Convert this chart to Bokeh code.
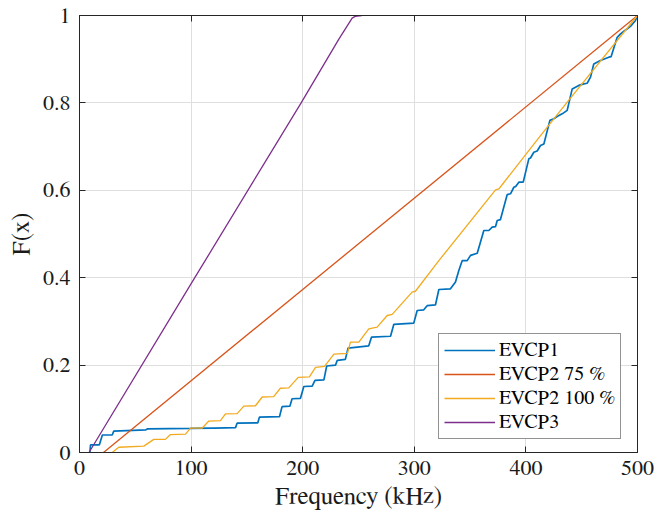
from bokeh.plotting import figure
from bokeh.models import Range1d, LinearAxis, FixedTicker, NumeralTickFormatter
from bokeh.embed import file_html
from bokeh.resources import INLINE

# ---- data ----
evcp1_x = [9.3, 9.9, 17.8, 20.5, 29.3, 30.7, 59.5, 60.8, 99.5, 119, 121, 139.8, 141.2,
           159.8, 161.2, 179.2, 181.5, 188.5, 190.5, 198, 201, 208.5, 211, 219, 221.5,
           229.4, 231, 238.2, 240.7, 259.2, 261.6, 278.7, 281.6, 299.5, 302.6, 308.5,
           311.5, 319, 322, 332.4, 336.9, 339.9, 342.9, 347.4, 350.4, 356.4, 362.3,
           366.8, 369.8, 372.8, 374.3, 377.2, 383.2, 386.2, 389.2, 391, 393.7, 397.6,
           402.6, 404.1, 407.1, 410.1, 413.1, 416.1, 421.5, 425, 428, 432.5, 437, 441.5,
           447.4, 451.9, 454.9, 457.9, 460.8, 466.8, 474.3, 476.4, 481.8, 484.8, 487.8,
           493.7, 498.2, 500]
evcp1_y = [0.0, 0.0176, 0.0176, 0.040, 0.040, 0.049, 0.052, 0.054, 0.055, 0.056, 0.056, 0.057, 0.067,
           0.068, 0.081, 0.082, 0.105, 0.106, 0.123, 0.124, 0.151, 0.152, 0.165, 0.166, 0.198,
           0.200, 0.211, 0.213, 0.239, 0.244, 0.264, 0.266, 0.293, 0.296, 0.325, 0.3265,
           0.336, 0.338, 0.373, 0.3745, 0.390, 0.4165, 0.439, 0.439, 0.451, 0.456, 0.508,
           0.508, 0.5156, 0.517, 0.531, 0.533, 0.590, 0.592, 0.607, 0.609, 0.6186, 0.6186,
           0.672, 0.674, 0.687, 0.690, 0.7025, 0.706, 0.760, 0.7636, 0.769, 0.775, 0.783, 0.832,
           0.840, 0.8436, 0.845, 0.859, 0.889, 0.897, 0.9046, 0.906, 0.950, 0.958, 0.964,
           0.975, 0.9886, 1.0]

evcp2_75_x = [21.5, 500]
evcp2_75_y = [0.0, 1.0]

evcp2_100_x = [29.3, 35.2, 57.6, 66.6, 77, 81.5, 95, 99.5, 110, 115.9, 126.3, 130.8, 141.3,
               147.2, 157.7, 163.7, 174, 180, 187.5, 196, 206, 211.5, 219.5, 228, 240, 242.8,
               250.3, 259.2, 266.7, 275.7, 280.2, 298, 301, 322, 372.8, 375.7, 413.1, 439, 500]
evcp2_100_y = [0.0, 0.012, 0.0145, 0.030, 0.030, 0.041, 0.042, 0.0556, 0.056, 0.072, 0.073, 0.0885, 0.089,
               0.106, 0.107, 0.127, 0.128, 0.147, 0.148, 0.172, 0.173, 0.195, 0.197, 0.225, 0.2266, 0.2525,
               0.2525, 0.283, 0.287, 0.3135, 0.316, 0.367, 0.369, 0.439, 0.601, 0.603, 0.725, 0.808, 1.0]

evcp3_x = [8.5, 103.3, 198.6, 232.4, 244.3, 247, 253]
evcp3_y = [0.0, 0.4, 0.8, 0.946, 0.994, 0.998, 1.0]

x_ticks = [0, 100, 200, 300, 400, 500]
y_ticks = [0, 0.2, 0.4, 0.6, 0.8, 1]

FONT = "FreeSerif"
AX = "#262626"

p = figure(width=670, height=517, output_backend="svg", toolbar_location=None,
           x_range=Range1d(0, 500), y_range=Range1d(0, 1),
           min_border_left=79, min_border_right=33, min_border_top=15, min_border_bottom=65)
p.background_fill_color = "white"
p.border_fill_color = "white"
p.outline_line_color = AX
p.outline_line_width = 1

p.line(evcp1_x, evcp1_y, line_color="#0072BD", line_width=1.7, legend_label="EVCP1")
p.line(evcp2_75_x, evcp2_75_y, line_color="#D95319", line_width=1.3, legend_label="EVCP2 75 %")
p.line(evcp2_100_x, evcp2_100_y, line_color="#F2AA1E", line_width=1.3, legend_label="EVCP2 100 %")
p.line(evcp3_x, evcp3_y, line_color="#7E2F8E", line_width=1.3, legend_label="EVCP3")

for ax in p.xaxis:
    ax.ticker = FixedTicker(ticks=x_ticks)
    ax.axis_label = "Frequency (kHz)"
for ax in p.yaxis:
    ax.ticker = FixedTicker(ticks=y_ticks)
    ax.formatter = NumeralTickFormatter(format="0.[0]")
    ax.axis_label = "F(x)"

for ax in list(p.xaxis) + list(p.yaxis):
    ax.major_tick_in = 6
    ax.major_tick_out = 0
    ax.minor_tick_line_color = None
    ax.axis_line_color = AX
    ax.major_tick_line_color = AX
    ax.major_label_text_font = FONT
    ax.major_label_text_font_size = "22px"
    ax.major_label_text_color = "#1a1a1a"
    ax.axis_label_text_font = FONT
    ax.axis_label_text_font_size = "25px"
    ax.axis_label_text_font_style = "normal"
    ax.axis_label_text_color = "#1a1a1a"
p.xaxis.major_label_standoff = 8
p.xaxis.axis_label_standoff = 6
p.yaxis.major_label_standoff = 9
p.yaxis.axis_label_standoff = 6

top = LinearAxis(ticker=FixedTicker(ticks=x_ticks))
right = LinearAxis(ticker=FixedTicker(ticks=y_ticks))
for ax in (top, right):
    ax.major_tick_in = 6
    ax.major_tick_out = 0
    ax.minor_tick_line_color = None
    ax.axis_line_color = AX
    ax.major_tick_line_color = AX
    ax.major_label_text_font_size = "0px"
    ax.major_label_text_color = None
    ax.major_label_standoff = 0
p.add_layout(top, "above")
p.add_layout(right, "right")

p.xgrid.ticker = FixedTicker(ticks=x_ticks)
p.ygrid.ticker = FixedTicker(ticks=y_ticks)
p.grid.grid_line_color = "#dfdfdf"
p.grid.grid_line_width = 1

lg = p.legend[0]
lg.location = (359, 13)
lg.label_text_font = FONT
lg.label_text_font_size = "20px"
lg.label_text_color = "black"
lg.glyph_width = 51
lg.glyph_height = 22
lg.label_height = 22
lg.label_standoff = 4
lg.spacing = 2
lg.padding = 5
lg.margin = 0
lg.border_line_color = AX
lg.border_line_width = 1
lg.background_fill_color = "white"
lg.background_fill_alpha = 1

open("out.html", "w").write(file_html(p, INLINE))
